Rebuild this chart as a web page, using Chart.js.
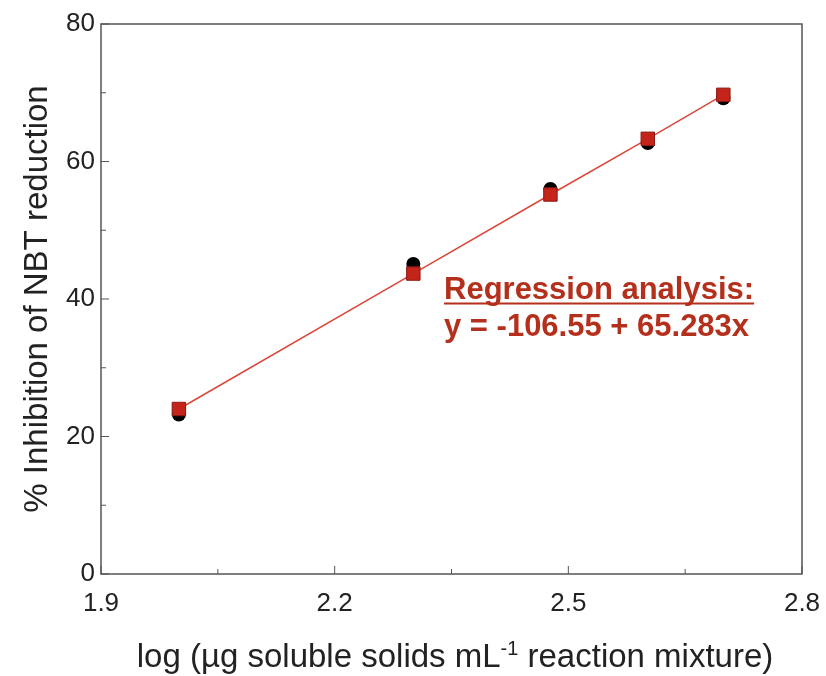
<!DOCTYPE html>
<html>
<head>
<meta charset="utf-8">
<script src="https://cdn.jsdelivr.net/npm/chart.js@4.4.1/dist/chart.umd.min.js"></script>
<style>
  html, body { margin: 0; padding: 0; background: #fff; }
  canvas { display: block; }
</style>
</head>
<body>
<canvas id="nbtChart" width="826" height="676"></canvas>
<script>
// log concentration of soluble solids (x) and % inhibition (y)
const logConc = [2.0, 2.301, 2.477, 2.602, 2.699];
const observed = [23.2, 45.1, 56.0, 62.7, 69.2];
const fitted = [24.0, 43.7, 55.2, 63.3, 69.7];

const xTickLabels = ["1.9", "2.2", "2.5", "2.8"];
const yTickLabels = ["0", "20", "40", "60", "80"];
const regressionText = ["Regression analysis:", "y = -106.55 + 65.283x"];

const FONT = "'Liberation Sans', Arial, Helvetica, sans-serif";
const RED_TEXT = "#b5301c";

// box frame + inward tick marks
const frame = {
    id: "frame",
    afterDraw(chart) {
        const ctx = chart.ctx;
        const a = chart.chartArea;
        const xs = chart.scales.x, ys = chart.scales.y;
        ctx.save();
        ctx.strokeStyle = "#555";
        ctx.lineWidth = 1.5;
        ctx.strokeRect(a.left, a.top, a.right - a.left, a.bottom - a.top);

        ctx.lineWidth = 1;
        ctx.beginPath();
        xs.ticks.forEach((t, i) => {
            const px = xs.getPixelForValue(t.value);
            const len = i % 2 === 0 ? 8 : 5;
            ctx.moveTo(px, a.bottom);
            ctx.lineTo(px, a.bottom - len);
        });
        ys.ticks.forEach((t, i) => {
            const py = ys.getPixelForValue(t.value);
            const len = i % 2 === 0 ? 8 : 5;
            ctx.moveTo(a.left, py);
            ctx.lineTo(a.left + len, py);
        });
        ctx.stroke();

        // x axis title with superscript
        const main = "33px " + FONT, sup = "20px " + FONT;
        const parts = [
            ["log (\u00b5g soluble solids mL", main, 0],
            ["-1", sup, -12],
            [" reaction mixture)", main, 0]
        ];
        let total = 0;
        parts.forEach(p => { ctx.font = p[1]; total += ctx.measureText(p[0]).width; });
        let x = 455 - total / 2;
        ctx.fillStyle = "#222";
        ctx.textBaseline = "alphabetic";
        ctx.textAlign = "left";
        parts.forEach(p => {
            ctx.font = p[1];
            ctx.fillText(p[0], x, 667 + p[2]);
            x += ctx.measureText(p[0]).width;
        });

        // regression note
        ctx.fillStyle = RED_TEXT;
        ctx.strokeStyle = RED_TEXT;
        ctx.font = "bold 31px " + FONT;
        ctx.fillText(regressionText[0], 444, 299);
        const w = ctx.measureText(regressionText[0]).width;
        ctx.lineWidth = 2.2;
        ctx.beginPath();
        ctx.moveTo(444, 303.5);
        ctx.lineTo(444 + w, 303.5);
        ctx.stroke();
        ctx.fillText(regressionText[1], 444, 336);
        ctx.restore();
    }
};

new Chart(document.getElementById("nbtChart"), {
    type: "scatter",
    data: {
        datasets: [
            {
                label: "Regression",
                data: logConc.map((x, i) => ({ x: x, y: fitted[i] })),
                showLine: true,
                borderColor: "#dc4638",
                borderWidth: 1.5,
                pointStyle: "rect",
                pointRadius: 9.5,
                pointBackgroundColor: "#c4241a",
                pointBorderColor: "#8a1a12",
                pointBorderWidth: 1,
                clip: false
            },
            {
                label: "Observed",
                data: logConc.map((x, i) => ({ x: x, y: observed[i] })),
                showLine: false,
                pointStyle: "circle",
                pointRadius: 7,
                pointBackgroundColor: "#000",
                pointBorderColor: "#000",
                pointBorderWidth: 0,
                clip: false
            }
        ]
    },
    options: {
        responsive: false,
        animation: false,
        devicePixelRatio: 1,
        layout: { padding: { top: 24, right: 24, left: 0, bottom: 0 } },
        plugins: { legend: { display: false }, tooltip: { enabled: false } },
        scales: {
            x: {
                type: "linear",
                min: 1.9,
                max: 2.8,
                grid: { display: false, drawTicks: false },
                border: { display: false },
                ticks: {
                    stepSize: 0.15,
                    autoSkip: false,
                    maxRotation: 0,
                    padding: 14,
                    color: "#222",
                    font: { family: FONT, size: 26 },
                    callback: (v, i) => i % 2 === 0 ? xTickLabels[i / 2] : ""
                },
                afterFit: s => {
                    s.height = 102;
                    s.paddingLeft = 0;
                    s.paddingRight = 0;
                }
            },
            y: {
                min: 0,
                max: 80,
                grid: { display: false, drawTicks: false },
                border: { display: false },
                ticks: {
                    stepSize: 10,
                    autoSkip: false,
                    padding: 6,
                    color: "#222",
                    font: { family: FONT, size: 26 },
                    callback: (v, i) => i % 2 === 0 ? yTickLabels[i / 2] : ""
                },
                title: {
                    display: true,
                    text: "% Inhibition of NBT reduction",
                    color: "#222",
                    font: { family: FONT, size: 33 },
                    padding: { top: 18 }
                },
                afterFit: s => {
                    s.width = 101;
                    s.paddingTop = 0;
                    s.paddingBottom = 0;
                }
            }
        }
    },
    plugins: [frame]
});
</script>
</body>
</html>
